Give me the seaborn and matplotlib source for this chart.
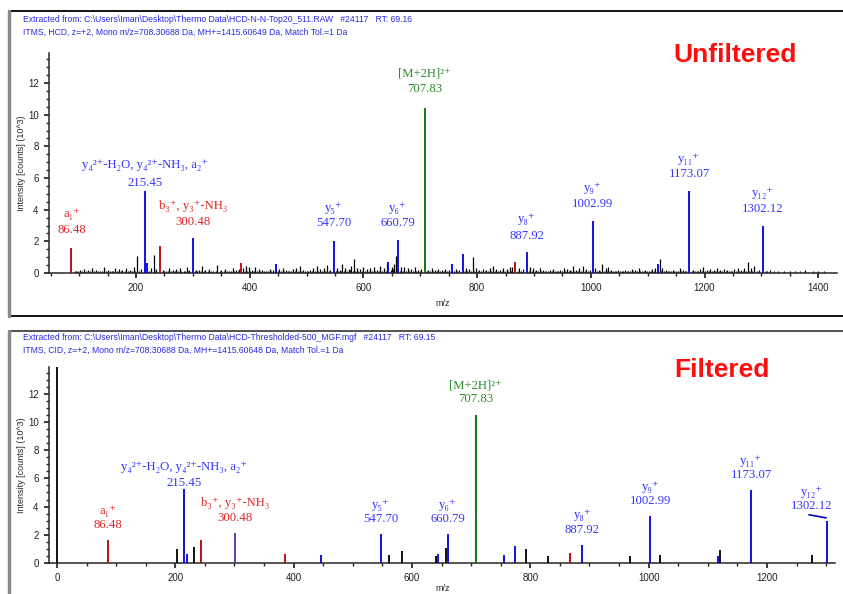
import matplotlib
matplotlib.use('Agg')
import matplotlib.pyplot as plt
import seaborn as sns
from matplotlib.lines import Line2D

# ---------------- data ----------------
# assigned / coloured peaks, unfiltered spectrum (m/z, intensity x10^3, ion type)
top_mz = [86.48, 215.45, 219.0, 243.0, 300.48, 385.0, 447.0, 547.70, 644.0, 660.79,
          707.83, 755.5, 774.5, 866.5, 887.92, 1002.99, 1117.5, 1173.07, 1302.12]
top_int = [1.6, 5.2, 0.65, 1.7, 2.2, 0.65, 0.6, 2.05, 0.7, 2.1,
           10.45, 0.6, 1.2, 0.7, 1.3, 3.3, 0.6, 5.2, 3.0]
top_ion = ['a/b', 'y', 'y', 'a/b', 'y', 'a/b', 'y', 'y', 'y', 'y',
           'M', 'y', 'y', 'a/b', 'y', 'y', 'y', 'y', 'y']

# unassigned noise peaks, unfiltered spectrum
noise_mz = [92, 95, 98, 101, 105, 108, 112, 115, 119, 122, 126, 129, 133, 136, 140, 143, 147,
            150, 154, 157, 160, 163, 167, 170, 173, 176, 180, 183, 186, 189, 193, 196, 199,
            202, 205, 208, 223, 226, 231, 234, 236, 248, 250, 253, 256, 258, 262, 265, 268,
            271, 274, 277, 280, 284, 287, 289, 292, 294, 304, 305, 308, 311, 314, 316, 319,
            322, 326, 329, 332, 336, 340, 343, 347, 350, 354, 357, 360, 363, 367, 370, 373,
            376, 379, 381, 389, 391, 393, 396, 398, 401, 404, 407, 410, 413, 416, 419, 422,
            425, 428, 432, 435, 438, 441, 450, 452, 455, 458, 461, 464, 467, 470, 473, 476,
            479, 482, 485, 488, 491, 494, 497, 500, 503, 506, 509, 512, 515, 518, 521, 524,
            527, 530, 533, 536, 539, 542, 551, 553, 556, 558, 560, 562, 565, 568, 571, 574,
            576, 578, 581, 583, 586, 588, 591, 594, 597, 600, 603, 606, 609, 612, 615, 618,
            621, 624, 627, 630, 633, 636, 639, 641, 648, 650, 652, 654, 657, 664, 666, 669,
            672, 675, 678, 681, 684, 687, 690, 693, 696, 699, 702, 712, 714, 717, 720, 723,
            726, 729, 732, 735, 738, 741, 744, 747, 750, 760, 762, 765, 768, 778, 780, 783,
            786, 789, 792, 795, 798, 801, 804, 807, 810, 813, 816, 819, 822, 825, 828, 831,
            834, 837, 840, 843, 846, 849, 852, 855, 858, 860, 862, 872, 874, 877, 880, 891,
            893, 896, 898, 901, 904, 907, 910, 913, 916, 919, 922, 925, 928, 931, 934, 937,
            940, 943, 946, 949, 952, 955, 958, 961, 964, 966, 968, 971, 974, 977, 980, 983,
            986, 989, 992, 995, 998, 1007, 1008, 1011, 1014, 1017, 1020, 1023, 1026, 1028,
            1030, 1033, 1036, 1039, 1042, 1045, 1048, 1051, 1054, 1057, 1060, 1063, 1066,
            1069, 1072, 1075, 1078, 1081, 1084, 1087, 1090, 1093, 1096, 1099, 1102, 1105,
            1108, 1111, 1113, 1121, 1124, 1126, 1129, 1132, 1135, 1138, 1141, 1144, 1147,
            1150, 1153, 1156, 1159, 1162, 1165, 1168, 1178, 1180, 1183, 1186, 1189, 1192,
            1195, 1198, 1201, 1204, 1207, 1210, 1213, 1216, 1219, 1222, 1225, 1228, 1231,
            1234, 1237, 1240, 1243, 1246, 1249, 1252, 1255, 1258, 1261, 1264, 1267, 1270,
            1273, 1276, 1279, 1281, 1284, 1287, 1293, 1296, 1308, 1310, 1316, 1322, 1330,
            1340, 1350, 1360, 1368, 1376, 1390, 1400, 1410]
noise_int = [0.1, 0.15, 0.1, 0.2, 0.12, 0.25, 0.1, 0.18, 0.1, 0.3, 0.12, 0.2, 0.1, 0.15, 0.12,
             0.35, 0.1, 0.2, 0.1, 0.15, 0.12, 0.3, 0.1, 0.25, 0.12, 0.2, 0.1, 0.3, 0.12, 0.2,
             0.1, 0.35, 0.15, 1.05, 0.12, 0.25, 0.15, 0.3, 1.15, 0.12, 0.25, 0.2, 0.12, 0.15,
             0.1, 0.3, 0.12, 0.2, 0.1, 0.25, 0.12, 0.3, 0.1, 0.15, 0.12, 0.35, 0.1, 0.2, 0.12,
             0.2, 0.1, 0.2, 0.12, 0.45, 0.1, 0.2, 0.12, 0.25, 0.1, 0.15, 0.12, 0.5, 0.1, 0.2,
             0.12, 0.25, 0.1, 0.15, 0.12, 0.3, 0.1, 0.2, 0.12, 0.25, 0.3, 0.15, 0.45, 0.12,
             0.35, 0.15, 0.2, 0.12, 0.4, 0.1, 0.25, 0.12, 0.2, 0.1, 0.15, 0.12, 0.25, 0.1, 0.2,
             0.12, 0.25, 0.1, 0.3, 0.12, 0.2, 0.1, 0.15, 0.12, 0.25, 0.1, 0.3, 0.15, 0.45, 0.1,
             0.2, 0.12, 0.15, 0.1, 0.2, 0.12, 0.3, 0.1, 0.45, 0.12, 0.25, 0.1, 0.3, 0.15, 0.5,
             0.12, 0.2, 0.15, 0.3, 0.12, 0.2, 0.15, 0.6, 0.12, 0.3, 0.15, 0.25, 0.2, 0.45, 0.15,
             0.9, 0.12, 0.3, 0.15, 0.25, 0.12, 0.35, 0.15, 0.25, 0.12, 0.3, 0.15, 0.35, 0.12,
             0.2, 0.15, 0.45, 0.12, 0.3, 0.15, 0.55, 0.2, 0.4, 0.25, 0.6, 1.1, 0.15, 0.35,
             0.12, 0.4, 0.15, 0.3, 0.12, 0.25, 0.15, 0.4, 0.12, 0.2, 0.15, 0.25, 0.12, 0.2,
             0.1, 0.3, 0.12, 0.2, 0.1, 0.25, 0.12, 0.2, 0.1, 0.25, 0.12, 0.2, 0.1, 0.25, 0.12,
             0.2, 0.12, 0.3, 0.1, 0.25, 0.12, 1.0, 0.1, 0.3, 0.12, 0.2, 0.1, 0.25, 0.12, 0.2,
             0.1, 0.3, 0.12, 0.45, 0.1, 0.25, 0.12, 0.2, 0.1, 0.3, 0.12, 0.25, 0.1, 0.4, 0.15,
             0.35, 0.12, 0.3, 0.1, 0.25, 0.1, 0.4, 0.12, 0.3, 0.1, 0.2, 0.12, 0.3, 0.1, 0.2,
             0.12, 0.15, 0.1, 0.2, 0.12, 0.25, 0.1, 0.15, 0.12, 0.2, 0.1, 0.3, 0.12, 0.25, 0.1,
             0.2, 0.15, 0.45, 0.1, 0.2, 0.12, 0.3, 0.1, 0.45, 0.12, 0.25, 0.1, 0.2, 0.12, 0.3,
             0.12, 0.2, 0.1, 0.55, 0.12, 0.3, 0.15, 0.4, 0.12, 0.2, 0.1, 0.15, 0.12, 0.2, 0.1,
             0.15, 0.12, 0.2, 0.1, 0.15, 0.12, 0.25, 0.1, 0.2, 0.12, 0.3, 0.1, 0.15, 0.12, 0.2,
             0.1, 0.15, 0.12, 0.25, 0.15, 0.3, 0.9, 0.12, 0.3, 0.1, 0.2, 0.12, 0.15, 0.1, 0.2,
             0.12, 0.15, 0.1, 0.3, 0.12, 0.2, 0.1, 0.15, 0.12, 0.2, 0.1, 0.15, 0.12, 0.25, 0.1,
             0.4, 0.12, 0.2, 0.1, 0.25, 0.12, 0.2, 0.1, 0.3, 0.12, 0.2, 0.1, 0.25, 0.12, 0.2,
             0.1, 0.15, 0.12, 0.25, 0.1, 0.3, 0.12, 0.2, 0.1, 0.3, 0.12, 0.7, 0.15, 0.3, 0.12,
             0.45, 0.1, 0.2, 0.12, 0.15, 0.2, 0.1, 0.15, 0.1, 0.15, 0.1, 0.12, 0.2, 0.1, 0.1,
             0.1]

# filtered spectrum (thresholded) peaks
bot_mz = [0.0, 86.48, 203.0, 215.45, 219.0, 231.0, 243.0, 300.48, 385.0, 447.0, 547.70, 562.0,
          583.0, 641.0, 644.0, 657.0, 660.79, 707.83, 755.5, 774.5, 792.0, 830.0, 866.5,
          887.92, 968.0, 1002.99, 1020.0, 1117.5, 1121.0, 1173.07, 1276.0, 1302.12]
bot_int = [14.5, 1.6, 1.0, 5.25, 0.65, 1.15, 1.65, 2.15, 0.65, 0.6, 2.05, 0.6,
           0.85, 0.5, 0.65, 1.05, 2.05, 10.5, 0.55, 1.2, 1.0, 0.5, 0.7,
           1.3, 0.5, 3.3, 0.55, 0.5, 0.95, 5.2, 0.6, 2.95]
bot_ion = ['other', 'a/b', 'other', 'y', 'y', 'other', 'a/b', 'b/y', 'a/b', 'y', 'y', 'other',
           'other', 'other', 'y', 'other', 'y', 'M', 'y', 'y', 'other', 'other', 'a/b',
           'y', 'other', 'y', 'other', 'y', 'other', 'y', 'other', 'y']

# annotations
label_mz = [86.48, 215.45, 300.48, 547.70, 660.79, 707.83, 887.92, 1002.99, 1173.07, 1302.12]
label_name = ['a\u2081\u207a',
              'y\u2084\u00b2\u207a-H\u2082O, y\u2084\u00b2\u207a-NH\u2083, a\u2082\u207a',
              'b\u2083\u207a, y\u2083\u207a-NH\u2083',
              'y\u2085\u207a', 'y\u2086\u207a', '[M+2H]\u00b2\u207a',
              'y\u2088\u207a', 'y\u2089\u207a', 'y\u2081\u2081\u207a', 'y\u2081\u2082\u207a']
label_ion = ['a/b', 'y', 'a/b', 'y', 'y', 'M', 'y', 'y', 'y', 'y']

top_header = ['Extracted from: C:\\Users\\Iman\\Desktop\\Thermo Data\\HCD-N-N-Top20_511.RAW   #24117   RT: 69.16',
              'ITMS, HCD, z=+2, Mono m/z=708.30688 Da, MH+=1415.60649 Da, Match Tol.=1 Da']
bot_header = ['Extracted from: C:\\Users\\Iman\\Desktop\\Thermo Data\\HCD-Thresholded-500_MGF.mgf   #24117   RT: 69.15',
              'ITMS, CID, z=+2, Mono m/z=708.30688 Da, MH+=1415.60648 Da, Match Tol.=1 Da']

# ---------------- layout / styles ----------------
# label heights (name line, value line) in intensity units
name_y = [3.7, 6.8, 4.25, 4.1, 4.1, 12.6, 3.4, 5.4, 7.2, 5.05]
value_y = [2.7, 5.7, 3.2, 3.15, 3.15, 11.6, 2.35, 4.37, 6.25, 4.05]

peak_col = {'a/b': '#b40000', 'y': '#0000dd', 'M': '#006e00', 'b/y': '#5a2ca0', 'other': 'black'}
text_col = {'a/b': '#e02424', 'y': '#3535ff', 'M': '#2b8a2b'}
serif = ['Liberation Serif', 'DejaVu Serif']

sns.set_theme(style='ticks')
plt.rcParams.update({'font.family': ['Liberation Sans', 'DejaVu Sans'],
                     'axes.linewidth': 1.1,
                     'xtick.labelsize': 7, 'ytick.labelsize': 7,
                     'xtick.color': '#222222', 'ytick.color': '#222222',
                     'xtick.major.size': 3.5, 'ytick.major.size': 3.5,
                     'xtick.minor.size': 2, 'ytick.minor.size': 2,
                     'xtick.minor.visible': True, 'ytick.minor.visible': True})

W, H = 843, 594
fig = plt.figure(figsize=(W / 100, H / 100), dpi=100)


def fx(px):
    return px / W


def fy(py):
    return 1 - py / H


# panel frames
for top, bottom, lc in [(11, 316, 'black'), (331, 600, '#444444')]:
    fig.add_artist(Line2D([fx(9), fx(900)], [fy(top), fy(top)], color=lc, lw=1.3))
    fig.add_artist(Line2D([fx(9), fx(900)], [fy(bottom), fy(bottom)], color='black', lw=1.3))
    fig.add_artist(Line2D([fx(9), fx(9)], [fy(top), fy(bottom)], color='#8a8a8a', lw=2.5))

for header, y0 in [(top_header, 20), (bot_header, 338)]:
    for i, line in enumerate(header):
        fig.text(fx(23), fy(y0 + i * 12), line, color='#2a2ae6', fontsize=6.2,
                 va='center', ha='left')

fig.text(fx(735), fy(55), 'Unfiltered', color='#ff0d0d', fontsize=19, fontweight='bold',
         ha='center', va='center')
fig.text(fx(722), fy(370), 'Filtered', color='#ff0d0d', fontsize=19, fontweight='bold',
         ha='center', va='center')


def draw_panel(ax, mz, inten, ion, xlim, xticks, shift_last=False):
    ax.vlines(mz, 0, inten, colors=[peak_col[k] for k in ion], lw=1.3, zorder=3)
    ax.set_xlim(*xlim)
    ax.set_ylim(0, 13.9)
    ax.set_xticks(xticks)
    ax.set_yticks([0, 2, 4, 6, 8, 10, 12])
    ax.xaxis.set_minor_locator(matplotlib.ticker.MultipleLocator(50))
    ax.yaxis.set_minor_locator(matplotlib.ticker.MultipleLocator(0.5))
    ax.set_xlabel('m/z', fontsize=6.5)
    ax.set_ylabel('Intensity [counts] (10^3)', fontsize=6.5)
    ax.yaxis.set_label_coords(-23 / 788, 0.5)
    ax.tick_params(axis='both', which='both', pad=4)
    sns.despine(ax=ax)
    for i, m in enumerate(label_mz):
        x = m
        if shift_last and i == len(label_mz) - 1:
            x = 1276
            ax.plot([1271, 1300], [3.42, 3.2], color='#0000cc', lw=1.2, clip_on=False)
        c = text_col[label_ion[i]]
        ax.text(x, name_y[i], label_name[i], color=c, fontsize=9.2, ha='center', va='center',
                family=serif)
        ax.text(x, value_y[i], f'{m:.2f}', color=c, fontsize=9.2, ha='center', va='center',
                family=serif)


ax1 = fig.add_axes([fx(49), fy(273), fx(788), (273 - 53) / H])
ax1.vlines(noise_mz, 0, noise_int, colors='black', lw=0.9, zorder=2)
draw_panel(ax1, top_mz, top_int, top_ion, (47, 1433), [200, 400, 600, 800, 1000, 1200, 1400])
ax1.xaxis.set_label_coords((443 - 49) / 788, -26 / 220)

ax2 = fig.add_axes([fx(49), fy(563), fx(786), (563 - 367) / H])
draw_panel(ax2, bot_mz, bot_int, bot_ion, (-13.5, 1315), [0, 200, 400, 600, 800, 1000, 1200],
           shift_last=True)
ax2.xaxis.set_label_coords((443 - 49) / 786, -21 / 196)

fig.savefig('out.png', dpi=100)
